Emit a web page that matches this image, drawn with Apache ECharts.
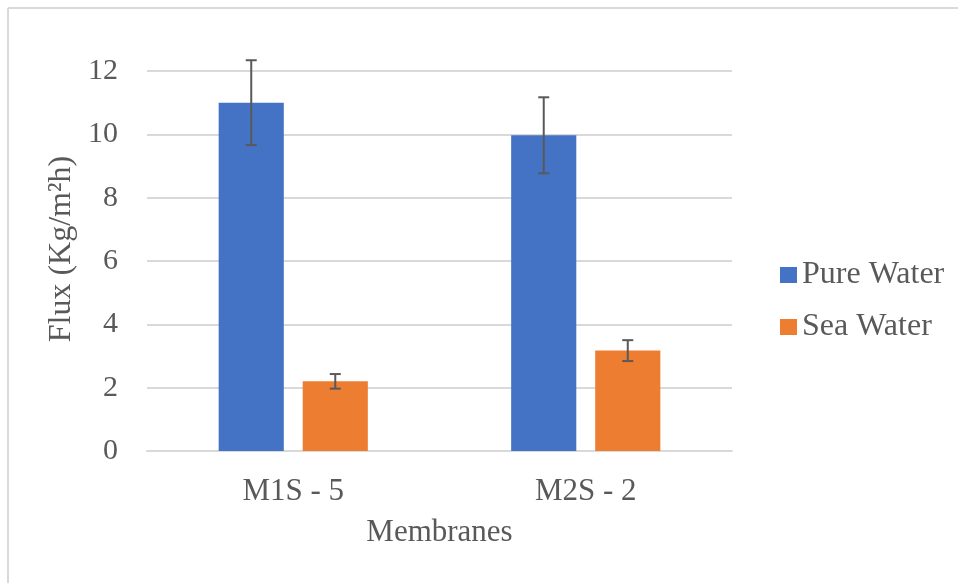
<!DOCTYPE html>
<html>
<head>
<meta charset="utf-8">
<script src="https://cdn.jsdelivr.net/npm/echarts@6/dist/echarts.min.js"></script>
<style>
  html, body { margin: 0; padding: 0; background: #fff; }
  #chart { width: 958px; height: 583px; }
</style>
</head>
<body>
<div id="chart"></div>
<script>
// Membrane flux measurements (mean ± error)
const categories = ['M1S - 5', 'M2S - 2'];
const seriesNames = ['Pure Water', 'Sea Water'];
const pureWater = [11.0, 9.97];
const seaWater = [2.2, 3.17];
const pureWaterErr = [1.34, 1.2];
const seaWaterErr = [0.23, 0.33];
const yTicks = [0, 2, 4, 6, 8, 10, 12];

const FONT = '"Liberation Serif", "Times New Roman", serif';
const TEXT = '#595959';
const GRID = '#d9d9d9';
const CAT_GAP = 0.49;   // barCategoryGap as fraction
const BAR_GAP = 0.29;   // barGap as fraction of bar width

function errorSeries(name, means, errs, side) {
  return {
    type: 'custom',
    name: name + ' error',
    z: 10,
    silent: true,
    data: means.map((m, i) => [i, m - errs[i], m + errs[i]]),
    renderItem: function (params, api) {
      const band = api.size([1, 0])[0];
      const bw = band * (1 - CAT_GAP) / (2 + BAR_GAP);
      const off = side * bw * (1 + BAR_GAP) / 2;
      const lo = api.coord([api.value(0), api.value(1)]);
      const hi = api.coord([api.value(0), api.value(2)]);
      const x = lo[0] + off;
      const cap = 5.5;
      const style = { stroke: '#595959', lineWidth: 2 };
      return {
        type: 'group',
        children: [
          { type: 'line', shape: { x1: x, y1: lo[1], x2: x, y2: hi[1] }, style: style },
          { type: 'line', shape: { x1: x - cap, y1: hi[1], x2: x + cap, y2: hi[1] }, style: style },
          { type: 'line', shape: { x1: x - cap, y1: lo[1], x2: x + cap, y2: lo[1] }, style: style }
        ]
      };
    }
  };
}

const chart = echarts.init(document.getElementById('chart'), null, { renderer: 'canvas' });
chart.setOption({
  backgroundColor: '#ffffff',
  animation: false,
  textStyle: { fontFamily: FONT, color: TEXT },
  graphic: [
    { type: 'line', shape: { x1: 8, y1: 8, x2: 958, y2: 8 }, style: { stroke: GRID, lineWidth: 2 } },
    { type: 'line', shape: { x1: 8, y1: 8, x2: 8, y2: 583 }, style: { stroke: GRID, lineWidth: 2 } }
  ],
  grid: { left: 147, right: 226, top: 71, bottom: 132 },
  legend: {
    orient: 'vertical',
    left: 775,
    top: 254,
    itemWidth: 17,
    itemHeight: 16,
    itemGap: 20,
    icon: 'rect',
    data: seriesNames,
    textStyle: { fontFamily: FONT, fontSize: 32, color: TEXT }
  },
  xAxis: {
    type: 'category',
    data: categories,
    name: 'Membranes',
    nameLocation: 'middle',
    nameGap: 66,
    nameTextStyle: { fontFamily: FONT, fontSize: 31, color: TEXT },
    axisLine: { lineStyle: { color: GRID, width: 2 } },
    axisTick: { show: false },
    axisLabel: { fontFamily: FONT, fontSize: 31, color: TEXT, margin: 25 }
  },
  yAxis: {
    type: 'value',
    min: yTicks[0],
    max: yTicks[yTicks.length - 1],
    interval: 2,
    name: 'Flux (Kg/m²h)',
    nameLocation: 'middle',
    nameGap: 63,
    nameRotate: 90,
    nameTextStyle: { fontFamily: FONT, fontSize: 32, color: TEXT, padding: [0, 0, 0, 24] },
    axisLine: { show: false },
    axisTick: { show: false },
    splitLine: { lineStyle: { color: GRID, width: 2 } },
    axisLabel: { fontFamily: FONT, fontSize: 30, color: TEXT, margin: 29 }
  },
  series: [
    {
      type: 'bar',
      name: seriesNames[0],
      data: pureWater,
      barCategoryGap: (CAT_GAP * 100) + '%',
      barGap: (BAR_GAP * 100) + '%',
      itemStyle: { color: '#4472c4' }
    },
    {
      type: 'bar',
      name: seriesNames[1],
      data: seaWater,
      barCategoryGap: (CAT_GAP * 100) + '%',
      barGap: (BAR_GAP * 100) + '%',
      itemStyle: { color: '#ed7d31' }
    },
    errorSeries(seriesNames[0], pureWater, pureWaterErr, -1),
    errorSeries(seriesNames[1], seaWater, seaWaterErr, 1)
  ]
});
</script>
</body>
</html>
